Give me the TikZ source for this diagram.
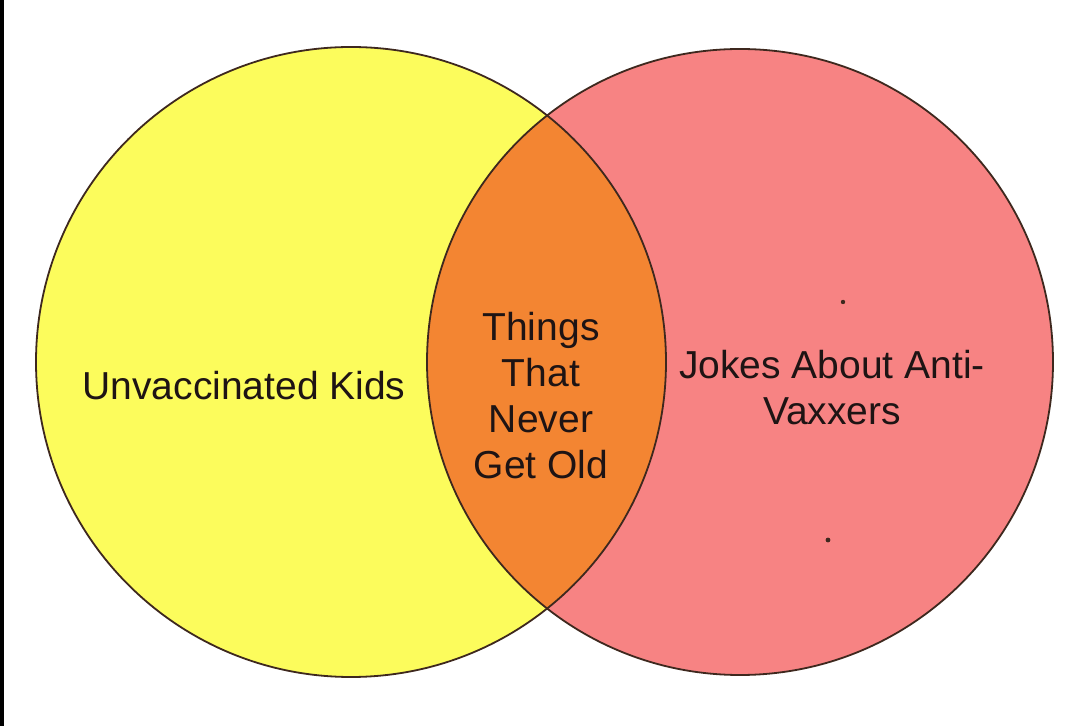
\documentclass[tikz,border=0pt]{standalone}
\usepackage{fontspec}
\setmainfont{Liberation Sans}
\definecolor{venyellow}{RGB}{252,252,92}
\definecolor{venpink}{RGB}{247,131,131}
\definecolor{venorange}{RGB}{243,133,50}
\definecolor{venline}{RGB}{62,40,30}
\definecolor{ventext}{RGB}{30,20,20}
\begin{document}
\begin{tikzpicture}[x=1pt,y=1pt,
  outline/.style={draw=venline,line width=1.8pt},
  label/.style={text=ventext,font=\fontsize{39}{46}\selectfont,align=center,inner sep=0pt},
  dotmark/.style={fill=venline,draw=none}]
\useasboundingbox (0,0) rectangle (1080,726);
\fill[white] (0,0) rectangle (1080,726);
\fill[black] (0,0) rectangle (4,726);
% circles (y flipped: y = 726 - ypx)
\coordinate (cl) at (351,364);
\coordinate (cr) at (740,364);
\fill[venyellow] (cl) circle (315);
\fill[venpink] (cr) circle (313);
\begin{scope}
  \clip (cl) circle (315);
  \fill[venorange] (cr) circle (313);
\end{scope}
\draw[outline] (cl) circle (315);
\draw[outline] (cr) circle (313);
% dots
\fill[dotmark] (843,424) circle (2.2);
\fill[dotmark] (828,186) circle (2.4);
% labels
\node[label] (kids) at (244,340) {Unvaccinated Kids};
\node[label] (never) at (541,330) {Things\\That\\Never\\Get Old};
\node[label] (jokes) at (832,338) {Jokes About Anti-\\Vaxxers};
\end{tikzpicture}
\end{document}
